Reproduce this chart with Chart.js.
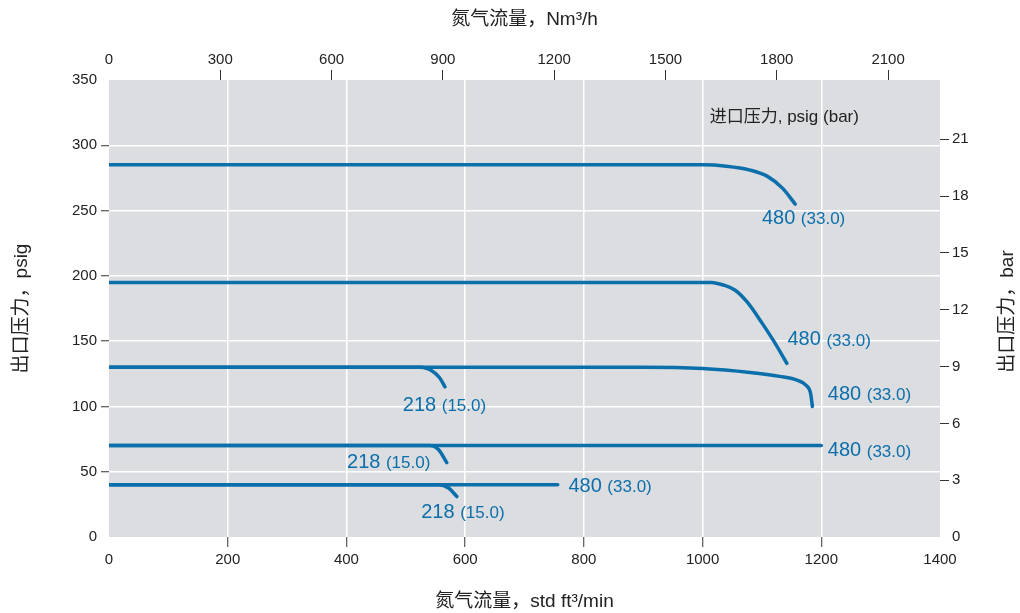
<!DOCTYPE html>
<html>
<head>
<meta charset="utf-8">
<title>出口压力</title>
<script src="https://cdn.jsdelivr.net/npm/chart.js@4.4.1/dist/chart.umd.min.js"></script>
<style>
    html, body { margin: 0; padding: 0; background: #fff; }
    #wrap { width: 1020px; height: 613px; position: relative; }
</style>
</head>
<body>
<div id="wrap"><canvas id="myChart"></canvas></div>
<script>
'use strict';

// tick labels
var flowTicks = [0, 200, 400, 600, 800, 1000, 1200, 1400];      // std ft3/min
var nm3hTicks = [0, 300, 600, 900, 1200, 1500, 1800, 2100];      // Nm3/h
var psigTicks = [0, 50, 100, 150, 200, 250, 300, 350];
var barTicks = [0, 3, 6, 9, 12, 15, 18, 21];
var nm3hMax = 2240;          // 1400 std ft3/min on the top scale
var psiPerBar = 14.5038;

// curves: [std ft3/min, psig]
var inlet480At285 = [[0, 285], [1000, 285], [1040, 284], [1080, 281], [1110, 276], [1135, 267], [1156, 255]];
var inlet480At195 = [[0, 195], [1015, 195], [1035, 193], [1055, 189], [1075, 180], [1100, 164], [1120, 150], [1142, 133]];
var inlet480At130 = [[0, 130], [900, 130], [1000, 129], [1080, 126], [1130, 123], [1160, 120], [1175, 116], [1182, 110], [1185, 100]];
var inlet218At130 = [[0, 130], [525, 130], [545, 127], [557, 122], [566, 115]];
var inlet480At70 = [[0, 70], [1200, 70]];
var inlet218At70 = [[0, 70], [540, 70], [555, 67], [569, 57]];
var inlet480At40 = [[0, 40], [756, 40]];
var inlet218At40 = [[0, 40], [555, 40], [572, 37.5], [586, 31]];

// curve labels
var labelPsig = ['480', '480', '480', '480', '480', '218', '218', '218'];
var labelBar = ['(33.0)', '(33.0)', '(33.0)', '(33.0)', '(33.0)', '(15.0)', '(15.0)', '(15.0)'];
var labelFlow = [1100, 1143, 1211, 1211, 774, 495, 401, 526];
var labelPsi = [244, 151, 109, 66, 39, 101, 57, 19];

var BLUE = '#0b6fab';
var FONT = '"Liberation Sans", Arial, "Noto Sans CJK SC", sans-serif';

function toPoints(pairs) {
    return pairs.map(function (p) { return { x: p[0], y: p[1] }; });
}

function curve(pairs) {
    return {
        data: toPoints(pairs),
        borderColor: BLUE,
        borderWidth: 3.5,
        pointRadius: 0,
        fill: false,
        cubicInterpolationMode: 'monotone',
        borderCapStyle: 'round',
        xAxisID: 'x',
        yAxisID: 'y'
    };
}

function setTicks(values) {
    return function (scale) {
        scale.ticks = values.map(function (v) { return { value: v }; });
    };
}

function plainNumber(v) {
    return String(Math.round(v));
}

function inner(lo, hi, color) {
    return function (c) {
        var v = c.tick ? c.tick.value : lo;
        return (v > lo && v < hi) ? color : 'rgba(0,0,0,0)';
    };
}

var plotBackground = {
    id: 'plotBackground',
    beforeDraw: function (chart) {
        var a = chart.chartArea;
        var ctx = chart.ctx;
        ctx.save();
        ctx.fillStyle = '#dcdde0';
        ctx.fillRect(a.left, a.top, a.right - a.left, a.bottom - a.top);
        ctx.restore();
    }
};

var curveLabels = {
    id: 'curveLabels',
    afterDatasetsDraw: function (chart) {
        var ctx = chart.ctx;
        var sx = chart.scales.x, sy = chart.scales.y;
        var i, x, y, w;
        ctx.save();
        ctx.fillStyle = BLUE;
        ctx.textBaseline = 'middle';
        ctx.textAlign = 'left';
        for (i = 0; i < labelPsig.length; i++) {
            x = sx.getPixelForValue(labelFlow[i]);
            y = sy.getPixelForValue(labelPsi[i]);
            ctx.font = '20px ' + FONT;
            ctx.fillText(labelPsig[i], x, y);
            w = ctx.measureText(labelPsig[i] + ' ').width;
            ctx.font = '17px ' + FONT;
            ctx.fillText(labelBar[i], x + w, y + 1);
        }
        ctx.restore();
    }
};

var extraTexts = {
    id: 'extraTexts',
    afterDraw: function (chart) {
        var ctx = chart.ctx;
        var a = chart.chartArea;
        ctx.save();
        ctx.fillStyle = '#222';
        ctx.font = '17px ' + FONT;
        ctx.textBaseline = 'middle';
        ctx.textAlign = 'left';
        ctx.fillText('进口压力, psig (bar)', chart.scales.x.getPixelForValue(1012), 117);

        // right axis title reads bottom to top, like the left one
        ctx.font = '19px ' + FONT;
        ctx.textAlign = 'center';
        ctx.translate(1008, (a.top + a.bottom) / 2 + 3);
        ctx.rotate(-Math.PI / 2);
        ctx.fillText('出口压力，bar', 0, 0);
        ctx.restore();
    }
};

var tickFont = { family: FONT, size: 15 };
var titleFont = { family: FONT, size: 19 };

var ctx = document.getElementById('myChart');
var myChart = new Chart(ctx, {
    type: 'line',
    data: {
        datasets: [
            curve(inlet480At285),
            curve(inlet480At195),
            curve(inlet480At130),
            curve(inlet218At130),
            curve(inlet480At70),
            curve(inlet218At70),
            curve(inlet480At40),
            curve(inlet218At40)
        ]
    },
    options: {
        responsive: true,
        maintainAspectRatio: false,
        animation: false,
        layout: { padding: 0 },
        plugins: {
            legend: { display: false },
            tooltip: { enabled: false }
        },
        scales: {
            x: {
                type: 'linear',
                position: 'bottom',
                min: 0,
                max: 1400,
                afterBuildTicks: setTicks(flowTicks),
                afterFit: function (s) { s.height = 76; },
                border: { display: false },
                grid: {
                    color: inner(0, 1400, '#ffffff'),
                    lineWidth: 1.5,
                    tickColor: inner(0, 1400, '#333'),
                    tickWidth: 1,
                    tickLength: 10
                },
                ticks: { color: '#222', font: tickFont, padding: 4, maxRotation: 0, autoSkip: false, callback: plainNumber },
                title: {
                    display: true,
                    text: '氮气流量，std ft³/min',
                    color: '#222',
                    font: titleFont,
                    padding: { top: 0, bottom: 0 }
                }
            },
            x2: {
                type: 'linear',
                position: 'top',
                min: 0,
                max: nm3hMax,
                afterBuildTicks: setTicks(nm3hTicks),
                afterFit: function (s) { s.height = 80; },
                border: { display: false },
                grid: {
                    drawOnChartArea: false,
                    tickColor: inner(0, nm3hMax, '#333'),
                    tickWidth: 1,
                    tickLength: 10
                },
                ticks: { color: '#222', font: tickFont, padding: 1, maxRotation: 0, autoSkip: false, callback: plainNumber },
                title: {
                    display: true,
                    text: '氮气流量，Nm³/h',
                    color: '#222',
                    font: titleFont,
                    padding: { top: 8, bottom: 0 }
                }
            },
            y: {
                type: 'linear',
                position: 'left',
                min: 0,
                max: 350,
                afterBuildTicks: setTicks(psigTicks),
                afterFit: function (s) { s.width = 109; },
                border: { display: false },
                grid: {
                    color: inner(0, 350, '#ffffff'),
                    lineWidth: 1.5,
                    tickColor: inner(0, 350, '#333'),
                    tickWidth: 1,
                    tickLength: 8
                },
                ticks: { color: '#222', font: tickFont, padding: 4, autoSkip: false, callback: plainNumber },
                title: {
                    display: true,
                    text: '出口压力，psig',
                    color: '#222',
                    font: titleFont,
                    padding: { top: 10, bottom: 0 }
                }
            },
            y2: {
                type: 'linear',
                position: 'right',
                min: 0,
                max: 350 / psiPerBar,
                afterBuildTicks: setTicks(barTicks),
                afterFit: function (s) { s.width = 80; },
                border: { display: false },
                grid: {
                    drawOnChartArea: false,
                    tickColor: inner(0, 350 / psiPerBar, '#333'),
                    tickWidth: 1,
                    tickLength: 9
                },
                ticks: { color: '#222', font: tickFont, padding: 3, autoSkip: false, callback: plainNumber }
            }
        }
    },
    plugins: [plotBackground, curveLabels, extraTexts]
});
</script>
</body>
</html>
